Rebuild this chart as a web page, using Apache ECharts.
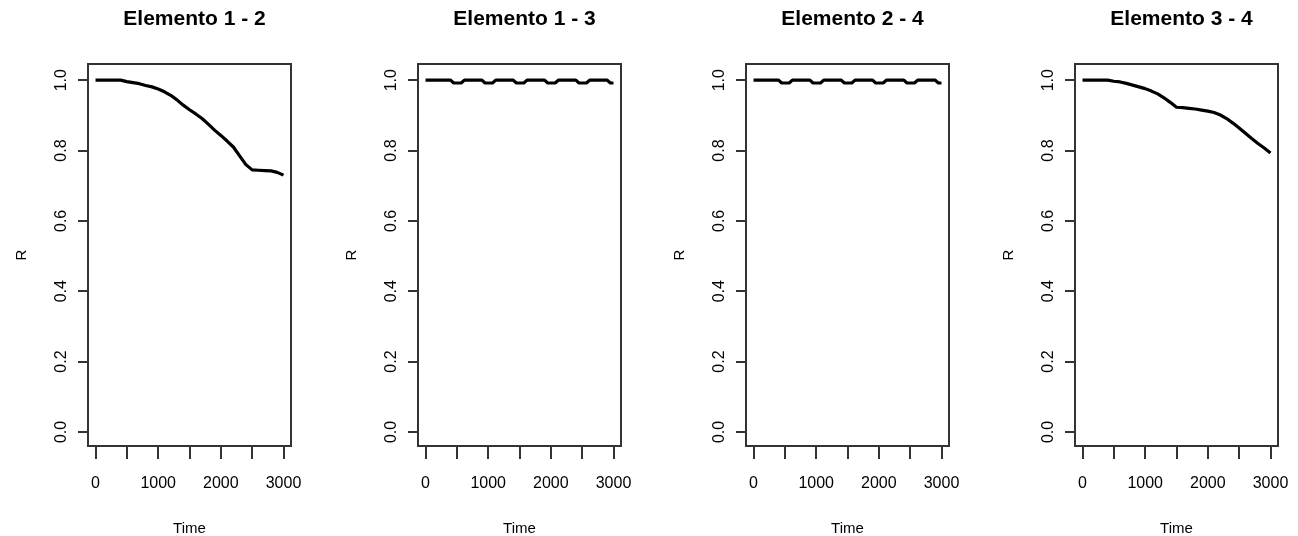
<!DOCTYPE html>
<html>
<head>
<meta charset="utf-8">
<script src="https://cdn.jsdelivr.net/npm/echarts@6/dist/echarts.min.js"></script>
<style>
html,body{margin:0;padding:0;background:#fff;}
#c{width:1298px;height:536px;}
</style>
</head>
<body>
<div id="c"></div>
<script>
// ---- data ----
var titles = ['Elemento 1 - 2', 'Elemento 1 - 3', 'Elemento 2 - 4', 'Elemento 3 - 4'];
var xTicks = [0, 500, 1000, 1500, 2000, 2500, 3000];
var xTickLabels = [0, 1000, 2000, 3000];
var yTicks = [0, 0.2, 0.4, 0.6, 0.8, 1.0];

var time12 = [0,100,200,300,400,500,600,700,800,900,1000,1100,1200,1300,1400,1500,1600,1700,1800,1900,2000,2100,2200,2300,2400,2500,2600,2700,2800,2900,3000];
var r12 = [1.0,1.0,1.0,1.0,1.0,0.996,0.993,0.990,0.985,0.981,0.975,0.967,0.957,0.944,0.929,0.916,0.904,0.891,0.875,0.858,0.843,0.827,0.810,0.785,0.760,0.745,0.744,0.743,0.742,0.738,0.730];

var time13 = [0,400,450,570,620,900,950,1070,1120,1400,1450,1570,1620,1900,1950,2070,2120,2400,2450,2570,2620,2900,2950,3000];
var r13 = [1.0,1.0,0.992,0.992,1.0,1.0,0.992,0.992,1.0,1.0,0.992,0.992,1.0,1.0,0.992,0.992,1.0,1.0,0.992,0.992,1.0,1.0,0.992,0.992];

var time24 = [0,400,450,570,620,900,950,1070,1120,1400,1450,1570,1620,1900,1950,2070,2120,2400,2450,2570,2620,2900,2950,3000];
var r24 = [1.0,1.0,0.992,0.992,1.0,1.0,0.992,0.992,1.0,1.0,0.992,0.992,1.0,1.0,0.992,0.992,1.0,1.0,0.992,0.992,1.0,1.0,0.992,0.992];

var time34 = [0,100,200,300,400,500,600,700,800,900,1000,1100,1200,1300,1400,1500,1600,1700,1800,1900,2000,2100,2200,2300,2400,2500,2600,2700,2800,2900,3000];
var r34 = [1.0,1.0,1.0,1.0,1.0,0.997,0.995,0.991,0.986,0.981,0.976,0.969,0.961,0.950,0.937,0.923,0.922,0.920,0.918,0.915,0.912,0.908,0.901,0.891,0.878,0.864,0.849,0.834,0.820,0.807,0.793];

var allTimes = [time12, time13, time24, time34];
var allR = [r12, r13, r24, r34];

// ---- layout ----
var lefts = [88, 418, 746, 1075];
var boxW = 203, boxTop = 64, boxH = 382;
var FONT = 'Liberation Sans, Arial, sans-serif';

var option = {
  backgroundColor: '#fff',
  animation: false,
  title: [], grid: [], xAxis: [], yAxis: [], series: []
};

for (var i = 0; i < 4; i++) {
  option.title.push({
    text: titles[i],
    left: lefts[i] + boxW / 2,
    top: 4,
    textAlign: 'center',
    textStyle: {fontFamily: FONT, fontSize: 21, fontWeight: 'bold', color: '#000'}
  });
  option.grid.push({
    left: lefts[i], top: boxTop, width: boxW, height: boxH,
    containLabel: false, outerBoundsMode: 'none',
    show: true, borderColor: '#333', borderWidth: 2, backgroundColor: 'transparent'
  });
  option.xAxis.push({
    type: 'value', gridIndex: i, min: -120, max: 3120, position: 'bottom',
    name: 'Time', nameLocation: 'middle', nameGap: 75,
    nameTextStyle: {fontFamily: FONT, fontSize: 15, color: '#000'},
    axisLine: {show: false, onZero: false},
    splitLine: {show: false},
    axisTick: {show: true, inside: false, length: 13, customValues: xTicks, lineStyle: {color: '#333', width: 2}},
    axisLabel: {show: true, margin: 30, customValues: xTickLabels,
      formatter: function (v) { return String(Math.round(v)); },
      fontFamily: FONT, fontSize: 16, color: '#000'}
  });
  option.yAxis.push({
    type: 'value', gridIndex: i, min: -0.04, max: 1.046, position: 'left',
    name: 'R', nameLocation: 'middle', nameGap: 59, nameRotate: 90,
    nameTextStyle: {fontFamily: FONT, fontSize: 15, color: '#000'},
    axisLine: {show: false, onZero: false},
    splitLine: {show: false},
    axisTick: {show: true, inside: false, length: 10, customValues: yTicks, lineStyle: {color: '#333', width: 2}},
    axisLabel: {show: true, margin: 18, rotate: 90, customValues: yTicks,
      formatter: function (v) { return Number(v).toFixed(1); },
      fontFamily: FONT, fontSize: 16, color: '#000'}
  });
  var pts = [];
  for (var k = 0; k < allTimes[i].length; k++) pts.push([allTimes[i][k], allR[i][k]]);
  option.series.push({
    type: 'line', xAxisIndex: i, yAxisIndex: i, data: pts,
    symbol: 'none', lineStyle: {color: '#000', width: 3.2}, silent: true
  });
}

var chart = echarts.init(document.getElementById('c'), null, {renderer: 'canvas'});
chart.setOption(option);
</script>
</body>
</html>
